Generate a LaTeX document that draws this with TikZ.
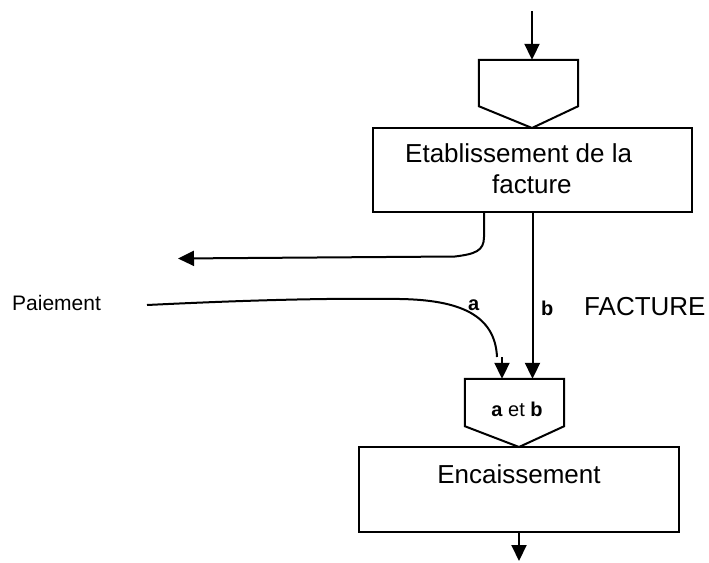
\documentclass[tikz,border=0pt]{standalone}
\usepackage{fontspec}
\setmainfont{Liberation Sans}
\usetikzlibrary{arrows.meta,calc}
\begin{document}
\begin{tikzpicture}[x=1pt,y=-1pt,
  line/.style={line width=2pt},
  arr/.style={line, -{Triangle[length=16pt,width=15pt]}},
  boxnode/.style={draw, line width=2pt, inner sep=0pt},
  hold/.style={inner sep=0pt},
  big/.style={font=\fontsize{26}{31}\selectfont, inner sep=0pt},
  mid/.style={font=\fontsize{21}{25}\selectfont, inner sep=0pt},
  lbl/.style={font=\fontsize{20}{24}\selectfont\bfseries, inner sep=0pt}]
\useasboundingbox (0,0) rectangle (709,562);

% top entry pentagon
\coordinate (in) at (532,11);
\node[hold, minimum width=99pt, minimum height=46pt] (p1) at (528.5,83) {};
\coordinate (p1tip) at (532,128);
\draw[line, line join=miter] (p1.north west) -- (p1.north east) -- (p1.south east) -- (p1tip) -- (p1.south west) -- cycle;
\draw[arr] (in) -- (in |- p1.north);

% box 1
\node[boxnode, minimum width=319pt, minimum height=84pt] (r1) at (532.5,170) {};
\node[big, anchor=base west] (t1a) at (405,162) {Etablissement de la};
\node[big, anchor=base west] (t1b) at (492,193) {facture};

% outgoing curved arrow to the left
\coordinate (s1) at ($(r1.south west)+(112,0)$);
\coordinate (out1) at (178,258.5);
\draw[arr] (s1) -- ++(0,24) .. controls ++(0,14) and (475,254) .. (455,256.5) -- (out1);

% second pentagon
\node[hold, minimum width=99pt, minimum height=47pt] (p2) at (514.5,402.5) {};
\coordinate (p2tip) at (519,447);
\draw[line, line join=miter] (p2.north west) -- (p2.north east) -- (p2.south east) -- (p2tip) -- (p2.south west) -- cycle;
\node[font=\fontsize{20}{24}\selectfont, inner sep=0pt, anchor=base] (p2t) at (517,416) {\textbf{a} et \textbf{b}};

% b arrow
\draw[arr] (r1.south) -- (r1.south |- p2.north);
\node[lbl, anchor=base west] (lb) at (541,315) {b};
\node[big, anchor=base west] (fac) at (584,315) {FACTURE};

% Paiement curve
\node[mid, anchor=base west] (pay) at (12,310) {Paiement};
\coordinate (c0) at (147,305);
\coordinate (c1) at (497,357);
\draw[line] (c0) .. controls (250,300) and (330,298) .. (400,299) .. controls (460,300) and (495,315) .. (c1);
\coordinate (a1) at (502,357);
\draw[arr] (a1) -- (a1 |- p2.north);
\node[lbl, anchor=base west] (la) at (468,310) {a};

% box 2
\node[boxnode, minimum width=320pt, minimum height=85pt] (r2) at (519,489.5) {};
\node[big, anchor=base] (t2) at (519,483) {Encaissement};
\coordinate (out2) at (519,561);
\draw[arr] (r2.south) -- (out2);
\end{tikzpicture}
\end{document}
